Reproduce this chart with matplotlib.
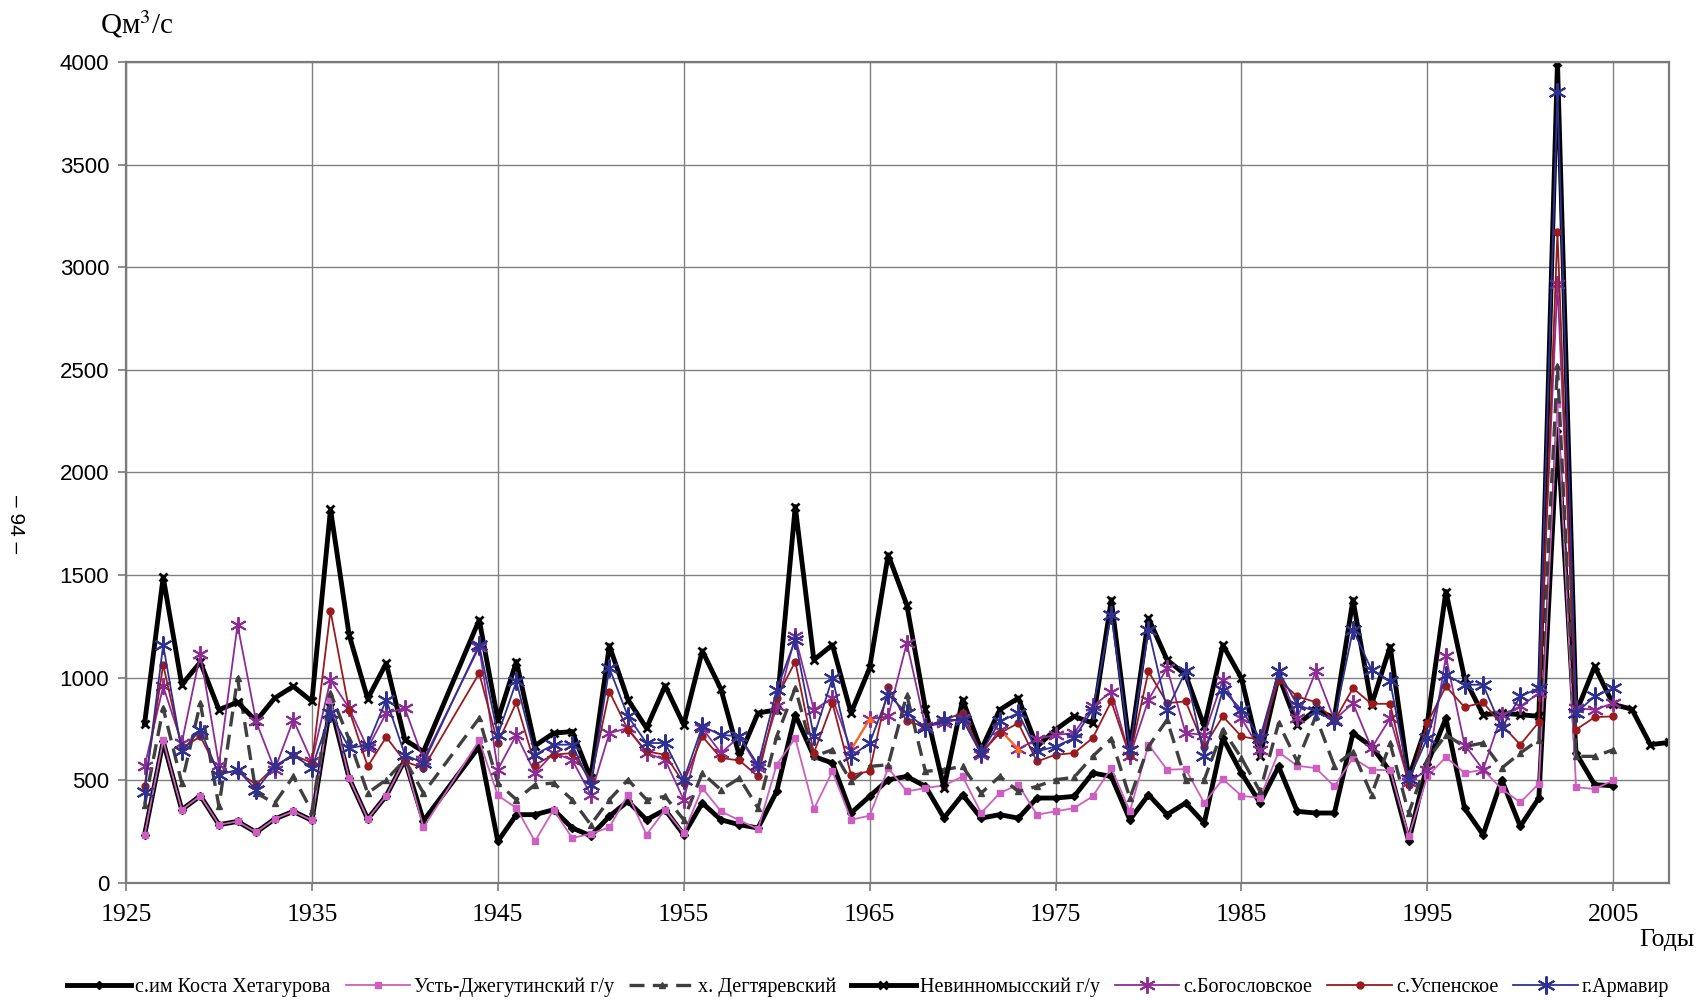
import numpy as np
import matplotlib
matplotlib.use('Agg')
import matplotlib.pyplot as plt

plt.rcParams['mathtext.fontset'] = 'stix'

# years with data (1942-1943 missing, lines are joined across the gap)
years = list(range(1926, 1942)) + list(range(1944, 2006))
years_nevin = years + [2006, 2007, 2008]

kosta = [235, 690, 357, 425, 284, 300, 247, 312, 349, 305, 870, 511, 312, 425, 600, 303,
         665, 203, 333, 333, 357, 268, 230, 325, 398, 308, 357, 235, 390, 308, 284, 268, 446, 820,
         617, 584, 341, 422, 503, 519, 471, 317, 430, 316, 333, 316, 414, 414, 422, 536, 519, 308,
         430, 333, 390, 292, 706, 536, 390, 568, 349, 341, 341, 730, 665, 544, 203, 580, 803, 365,
         235, 503, 276, 414, 2200, 633, 479, 474]
ust_dzheguta = [235, 695, 357, 425, 284, 300, 247, 312, 349, 305, 893, 511, 312, 425, 600, 271,
                695, 427, 365, 203, 357, 219, 240, 271, 430, 235, 357, 243, 463, 349, 305, 263, 576, 706,
                360, 544, 308, 328, 560, 446, 463, 475, 519, 341, 438, 479, 333, 349, 365, 422, 560, 349,
                674, 552, 555, 390, 506, 425, 414, 638, 571, 560, 471, 609, 552, 549, 227, 519, 613, 536,
                552, 458, 393, 484, 2336, 467, 458, 500]
degtyarevsky = [381, 852, 487, 876, 373, 998, 438, 389, 519, 349, 925, 700, 438, 503, 600, 438,
                803, 487, 406, 479, 487, 406, 284, 406, 503, 406, 422, 308, 536, 454, 511, 365, 714, 949,
                617, 649, 495, 568, 576, 917, 544, 552, 568, 438, 519, 446, 471, 503, 515, 617, 703, 414,
                665, 795, 503, 503, 747, 609, 446, 779, 592, 812, 571, 640, 430, 680, 340, 600, 722, 665,
                682, 560, 633, 698, 2519, 617, 617, 649]
nevinnomyssky = [776, 1490, 966, 1076, 844, 881, 790, 901, 958, 885, 1821, 1209, 898, 1071, 698, 640,
                 1282, 795, 1079, 669, 730, 738, 511, 1156, 893, 755, 961, 771, 1131, 945, 617, 828, 844, 1834,
                 1087, 1160, 828, 1047, 1599, 1355, 850, 463, 893, 649, 844, 901, 665, 747, 812, 779, 1380, 649,
                 1290, 1087, 1014, 763, 1160, 998, 617, 1010, 771, 844, 805, 1380, 868, 1152, 511, 779, 1420, 998,
                 820, 828, 820, 812, 4000, 830, 1055, 870, 847, 674, 685]
bogoslovskoe = [568, 958, 682, 1117, 576, 1258, 787, 552, 795, 592, 990, 852, 657, 828, 852, 600,
                1150, 552, 722, 536, 633, 600, 430, 730, 755, 633, 600, 406, 755, 633, 714, 560, 860, 1201,
                844, 901, 649, 798, 812, 1169, 763, 779, 803, 625, 747, 652, 701, 722, 730, 860, 933, 617,
                893, 1047, 730, 722, 990, 803, 649, 1031, 803, 1031, 795, 876, 657, 803, 490, 552, 1104, 674,
                552, 820, 860, 925, 2920, 852, 844, 876]
uspenskoe = [471, 1063, 657, 714, 536, 544, 479, 568, 625, 584, 1326, 844, 568, 711, 592, 560,
             1022, 682, 880, 576, 625, 633, 503, 933, 747, 641, 625, 487, 714, 609, 597, 519, 901, 1079,
             633, 876, 527, 544, 954, 787, 763, 795, 828, 633, 730, 779, 592, 625, 633, 706, 885, 617,
             1031, 876, 885, 665, 812, 714, 698, 990, 909, 881, 790, 949, 873, 873, 479, 779, 958, 857,
             880, 771, 674, 784, 3172, 747, 808, 812]
armavir = [441, 1160, 641, 747, 527, 552, 454, 568, 625, 560, 828, 657, 673, 893, 625, 584,
           1160, 722, 982, 625, 674, 674, 479, 1047, 812, 682, 682, 503, 763, 722, 714, 576, 941, 1185,
           714, 998, 617, 682, 917, 828, 755, 795, 795, 633, 787, 828, 641, 665, 706, 844, 1307, 649,
           1234, 844, 1031, 617, 941, 844, 706, 1031, 868, 836, 791, 1234, 1039, 982, 505, 706, 1014, 966,
           966, 755, 909, 950, 3852, 828, 909, 950]

# Bogoslovskoe points drawn in orange in the original (end year of the segment)
orange_years = [1965, 1973]

labels = ['с.им Коста Хетагурова', 'Усть-Джегутинский г/у', 'х. Дегтяревский',
          'Невинномысский г/у', 'с.Богословское', 'с.Успенское', 'г.Армавир']

serif = 'Liberation Serif'
sans = 'Liberation Sans'
star = (6, 2, 0)   # asterisk marker like the excel one

fig = plt.figure(figsize=(17.07, 10), dpi=100)
ax = fig.add_axes([126/1707, 117/1000, (1669-126)/1707, (883-62)/1000])

ax.plot(years, kosta, color='black', lw=3.5, marker='D', ms=4, label=labels[0])
ax.plot(years, ust_dzheguta, color='#cc5fbf', lw=1.3, marker='s', ms=5, label=labels[1])
ax.plot(years, degtyarevsky, color='#3f3f3f', lw=2.4, ls=(0, (4.5, 2.5)), marker='^', ms=5,
        label=labels[2])
ax.plot(years_nevin, nevinnomyssky, color='black', lw=3.5, marker='x', ms=6, mew=2, label=labels[3])
ax.plot(years, bogoslovskoe, color='#8e2c96', lw=1.3, marker=star, ms=12, mew=1.4, label=labels[4])
for oy in orange_years:
    i = years.index(oy)
    ax.plot(years[i-1:i+1], bogoslovskoe[i-1:i+1], color='#ff6a13', lw=1.5)
    ax.plot(years[i], bogoslovskoe[i], color='#ff6a13', marker='^', ms=5)
ax.plot(years, uspenskoe, color='#9a1b1e', lw=1.3, marker='o', ms=5, label=labels[5])
ax.plot(years, armavir, color='#2e3192', lw=1.3, marker=star, ms=13, mew=1.5, label=labels[6])

ax.set_xlim(1925, 2008)
ax.set_ylim(0, 4000)
ax.set_xticks(np.arange(1925, 2006, 10))
ax.set_yticks(np.arange(0, 4001, 500))
ax.grid(True, color='#808080', lw=1.0)
ax.set_axisbelow(True)
for s in ax.spines.values():
    s.set_color('#7a7a7a')
    s.set_linewidth(1.6)
ax.tick_params(axis='both', direction='out', length=6, color='#7a7a7a', width=1.2)
for t in ax.get_xticklabels():
    t.set_fontfamily(serif)
    t.set_fontsize(18.5)
for t in ax.get_yticklabels():
    t.set_fontfamily(sans)
    t.set_fontsize(16)
ax.tick_params(axis='x', pad=9)
ax.tick_params(axis='y', pad=6)

fig.text(137/1707, 1 - 24/1000, 'Qм$^3$/с', family=serif, fontsize=21, ha='center', va='center')
fig.text(1667/1707, 1 - 940/1000, 'Годы', family=serif, fontsize=18.5, ha='center', va='center')
fig.text(15/1707, 1 - 524/1000, '– 94 –', family=sans, fontsize=15, rotation=270,
         ha='center', va='center')

fig.legend(loc='center', bbox_to_anchor=(868/1707, 1 - 987/1000), ncol=7, frameon=False,
           prop={'family': serif, 'size': 14.5}, handlelength=3.2, handletextpad=0.2,
           columnspacing=0.75, numpoints=1)

fig.savefig('out.png', dpi=100, facecolor='white')
